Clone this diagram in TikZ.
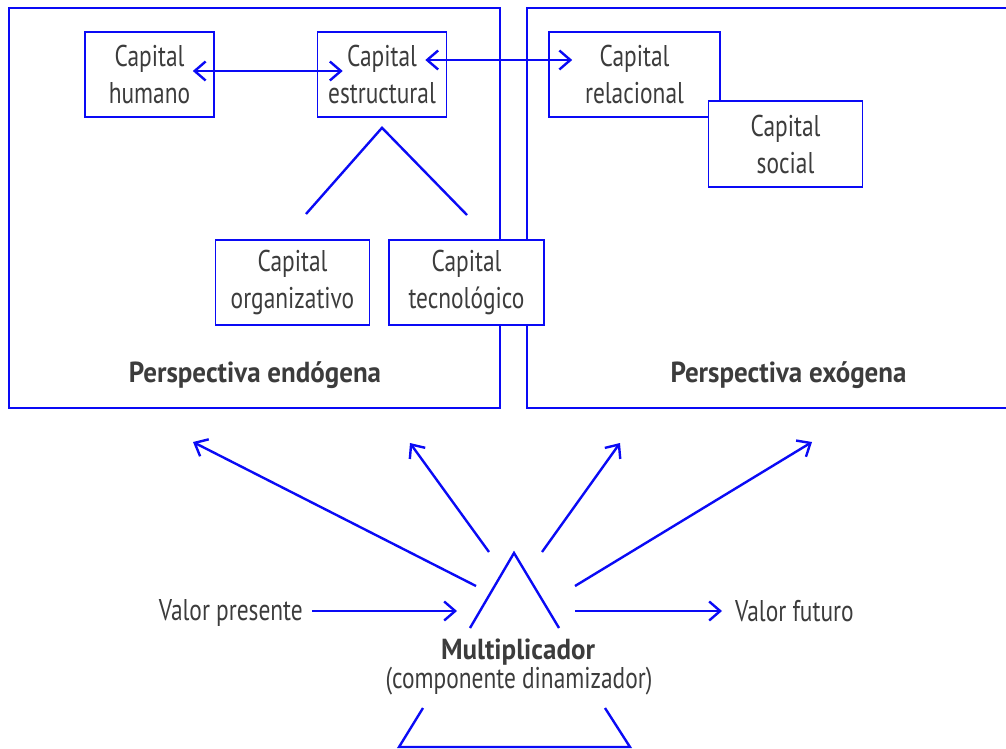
\documentclass[tikz,border=0pt]{standalone}
\usepackage{fontspec}
\setmainfont{PT Sans}[FakeStretch=0.78,BoldFeatures={FakeStretch=0.93}]
\usetikzlibrary{arrows.meta,calc}
\definecolor{ln}{RGB}{10,10,245}
\definecolor{tx}{RGB}{60,60,60}
\begin{document}
\begin{tikzpicture}[x=1pt,y=-1pt,
  bigbox/.style={draw=ln,line width=1.6pt,inner sep=0pt},
  box/.style={draw=ln,line width=1.6pt,fill=white,inner sep=0pt,align=center,text=tx,
    font=\fontsize{30}{37}\selectfont},
  lbl/.style={text=tx,inner sep=0pt,font=\fontsize{30}{37}\selectfont},
  blbl/.style={text=tx,inner sep=0pt,font=\fontsize{29}{35}\selectfont\bfseries},
  ln/.style={draw=ln,line width=2.4pt},
  arr/.style={ln,-{Straight Barb[length=11pt,width=19pt]}},
  darr/.style={ln,{Straight Barb[length=11pt,width=19pt]}-{Straight Barb[length=11pt,width=19pt]}}]
\useasboundingbox (0,0) rectangle (1006,749);
\clip (0,0) rectangle (1006,749);
% perspective frames
\node[bigbox,minimum width=491pt,minimum height=400pt] (endo) at (254.5,208) {};
\node[bigbox,minimum width=500pt,minimum height=400pt] (exo) at (777,208) {};
\node[blbl,anchor=base] (endolbl) at (255,382) {Perspectiva endógena};
\node[blbl,anchor=base] (exolbl) at (788.5,382) {Perspectiva exógena};
% capital boxes
\node[box,minimum width=129pt,minimum height=85pt] (hum) at (149.5,74.5) {Capital\\humano};
\node[box,minimum width=129pt,minimum height=85pt] (est) at (382,74.5) {Capital\\estructural};
\node[box,minimum width=171pt,minimum height=85pt] (rel) at (634.5,74.5) {Capital\\relacional};
\node[box,minimum width=154pt,minimum height=86pt] (soc) at (785.5,144) {Capital\\social};
\node[box,minimum width=154pt,minimum height=85pt] (org) at (292.5,282.5) {Capital\\organizativo};
\node[box,minimum width=155pt,minimum height=85pt] (tec) at (466.5,282.5) {Capital\\tecnológico};
% connectors
\draw[darr] ($(hum.east)+(-22,-3.5)$) -- ($(est.west)+(26,-3.5)$);
\draw[darr] ($(est.east)+(-22,-14.5)$) -- ($(rel.west)+(24,-14.5)$);
\coordinate (apex) at ($(est.south)+(0,10)$);
\coordinate (brl) at (306,214);
\coordinate (brr) at (467,215);
\draw[ln] (brl) -- (apex) -- (brr);
% multiplier
\coordinate (ta) at (514,553);
\coordinate (tl) at (470,628);
\coordinate (tr) at (559,628);
\draw[ln,line join=miter] (tl) -- (ta) -- (tr);
\coordinate (bl1) at (423,708);
\coordinate (bl2) at (399,747);
\coordinate (br2) at (630,747);
\coordinate (br1) at (605,708);
\draw[ln,line join=miter] (bl1) -- (bl2) -- (br2) -- (br1);
\node[blbl,anchor=base] (mult) at (518,659) {Multiplicador};
\node[lbl,anchor=base] (multsub) at (519,688) {(componente dinamizador)};
\node[lbl,anchor=base east] (vp) at (303,620) {Valor presente};
\node[lbl,anchor=base west] (vf) at (735,621) {Valor futuro};
\coordinate (vpend) at (457,611);
\coordinate (vfstart) at (575,611);
\draw[arr] ($(vp.east |- vpend)+(9,0)$) -- (vpend);
\draw[arr] (vfstart) -- ($(vf.west |- vfstart)+(-13,0)$);
\coordinate (s1) at (476,586); \coordinate (e1) at (193,442);
\coordinate (s2) at (489,552); \coordinate (e2) at (410,443);
\coordinate (s3) at (542,552); \coordinate (e3) at (620,443);
\coordinate (s4) at (575,586); \coordinate (e4) at (812,442);
\draw[arr] (s1) -- (e1);
\draw[arr] (s2) -- (e2);
\draw[arr] (s3) -- (e3);
\draw[arr] (s4) -- (e4);
\end{tikzpicture}
\end{document}
